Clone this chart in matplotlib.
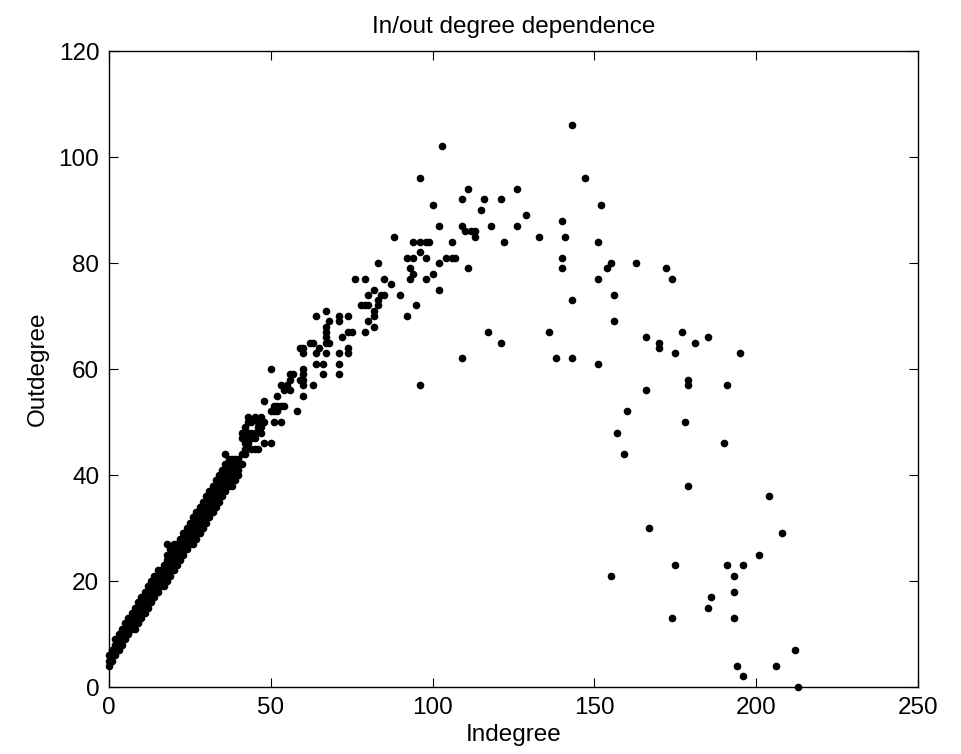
import matplotlib
matplotlib.use("Agg")
import matplotlib.pyplot as plt

plt.rcParams['font.family'] = ['Liberation Sans', 'DejaVu Sans']

# dense band: indegree -> list of outdegree values seen at that indegree
band_indeg = list(range(0, 45))
band_outdeg = [
    [4, 5, 6], [5, 6, 7], [6, 7, 8, 9], [7, 8, 9, 10], [8, 9, 10, 11],
    [9, 10, 11, 12], [10, 11, 12, 13], [11, 12, 13, 14], [11, 12, 13, 14, 15], [12, 13, 14, 15, 16],
    [13, 14, 15, 16, 17], [14, 15, 16, 17, 18], [15, 16, 17, 18, 19], [16, 17, 18, 19, 20], [17, 18, 19, 20, 21],
    [18, 19, 20, 21, 22], [19, 20, 21, 22], [19, 20, 21, 22, 23], [20, 21, 22, 23, 24, 25, 27], [21, 22, 23, 24, 25, 26],
    [22, 23, 24, 25, 26, 27], [23, 24, 25, 26, 27], [24, 25, 26, 27, 28], [25, 26, 27, 28, 29], [26, 27, 28, 29, 30],
    [27, 28, 29, 30, 31], [27, 28, 29, 30, 31, 32], [28, 29, 30, 31, 32, 33], [29, 30, 31, 32, 33, 34], [30, 31, 32, 33, 34, 35],
    [31, 32, 33, 34, 35, 36], [32, 33, 34, 35, 36, 37], [33, 34, 35, 36, 37, 38], [34, 35, 36, 37, 38, 39], [35, 36, 37, 38, 39, 40],
    [36, 37, 38, 39, 40, 41], [37, 38, 39, 40, 41, 42, 44], [38, 39, 40, 41, 42, 43], [38, 39, 40, 41, 42, 43], [39, 40, 41, 42, 43],
    [40, 41, 42, 43], [42, 44, 47, 48], [44, 45, 46, 49], [46, 47, 48, 50, 51], [47, 48],
]

# scattered nodes beyond the band
spread_indeg = [
    44, 45, 46, 45, 47, 45, 46, 47, 44, 46, 48, 47, 45, 48, 50, 51, 53, 50, 51, 52,
    58, 51, 52, 53, 54, 48, 52, 60, 54, 56, 53, 55, 60, 63, 56, 59, 60, 56, 57, 60,
    66, 71, 50, 60, 64, 66, 71, 60, 64, 67, 71, 74, 59, 60, 65, 74, 62, 63, 67, 68,
    67, 72, 67, 74, 75, 79, 67, 82, 68, 71, 80, 64, 71, 74, 82, 92, 67, 82, 78, 79,
    80, 83, 95, 83, 80, 84, 85, 90, 82, 102, 87, 76, 79, 85, 93, 98, 94, 100, 83, 102,
    93, 111, 92, 94, 98, 104, 106, 107, 96, 94, 96, 98, 99, 106, 88, 113, 102, 109, 110, 112,
    113, 118, 126, 115, 100, 109, 116, 121, 111, 126, 96, 103, 143, 147, 152, 129, 140, 133, 141, 122,
    151, 140, 140, 155, 154, 163, 151, 156, 143, 156, 117, 136, 121, 166, 109, 138, 143, 151, 96, 166,
    172, 174, 170, 170, 177, 181, 185, 175, 195, 179, 179, 191, 160, 178, 157, 190, 159, 179, 204, 167,
    208, 201, 175, 191, 196, 155, 193, 193, 186, 185, 174, 193, 212, 194, 206, 196, 213,
]
spread_outdeg = [
    45, 45, 45, 47, 48, 48, 49, 49, 50, 50, 50, 51, 51, 46, 46, 50, 50, 52, 52, 52,
    52, 53, 53, 53, 53, 54, 55, 55, 56, 56, 57, 57, 57, 57, 58, 58, 58, 59, 59, 59,
    59, 59, 60, 60, 61, 61, 61, 63, 63, 63, 63, 63, 64, 64, 64, 64, 65, 65, 65, 65,
    66, 66, 67, 67, 67, 67, 68, 68, 69, 69, 69, 70, 70, 70, 70, 70, 71, 71, 72, 72,
    72, 72, 72, 73, 74, 74, 74, 74, 75, 75, 76, 77, 77, 77, 77, 77, 78, 78, 80, 80,
    79, 79, 81, 81, 81, 81, 81, 81, 82, 84, 84, 84, 84, 84, 85, 85, 87, 87, 86, 86,
    86, 87, 87, 90, 91, 92, 92, 92, 94, 94, 96, 102, 106, 96, 91, 89, 88, 85, 85, 84,
    84, 81, 79, 80, 79, 80, 77, 74, 73, 69, 67, 67, 65, 66, 62, 62, 62, 61, 57, 56,
    79, 77, 65, 64, 67, 65, 66, 63, 63, 58, 57, 57, 52, 50, 48, 46, 44, 38, 36, 30,
    29, 25, 23, 23, 23, 21, 21, 18, 17, 15, 13, 13, 7, 4, 4, 2, 0,
]

indeg = []
outdeg = []
for x, ys in zip(band_indeg, band_outdeg):
    for y in ys:
        indeg.append(x)
        outdeg.append(y)
indeg += spread_indeg
outdeg += spread_outdeg

fig = plt.figure(figsize=(9.61, 7.54), dpi=100)
ax = fig.add_axes([109 / 961, 67 / 754, 809 / 961, 636 / 754])

ax.plot(indeg, outdeg, 'o', color='black', markersize=5.5, markeredgewidth=0, clip_on=False)

ax.set_xlim(0, 250)
ax.set_ylim(0, 120)
ax.set_xticks([0, 50, 100, 150, 200, 250])
ax.set_yticks([0, 20, 40, 60, 80, 100, 120])

ax.tick_params(direction='in', length=6.5, width=0.8, top=True, right=True,
               labelsize=17.5, pad=7)
for s in ax.spines.values():
    s.set_linewidth(1.0)

ax.set_title('In/out degree dependence', fontsize=17.5, pad=13)
ax.set_xlabel('Indegree', fontsize=17.5, labelpad=4)
ax.set_ylabel('Outdegree', fontsize=17.5, labelpad=7)

fig.savefig('out.png', dpi=100)
